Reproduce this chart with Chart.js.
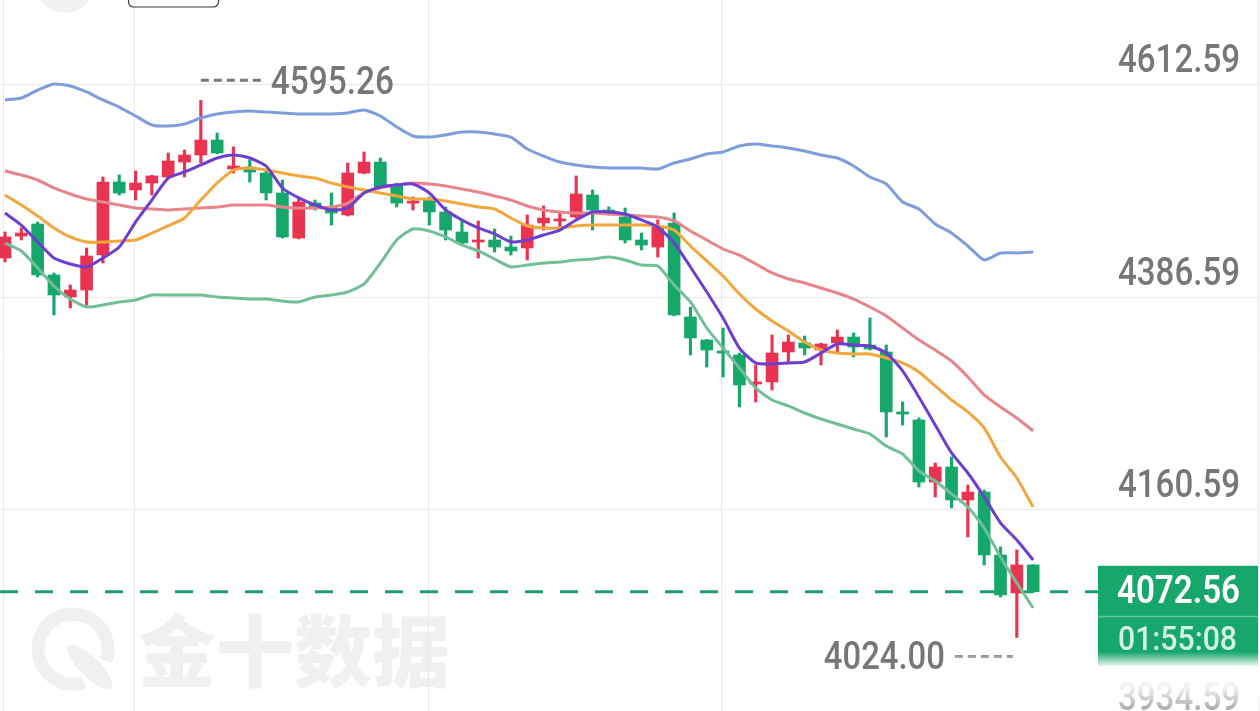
<!DOCTYPE html>
<html lang="zh-CN">
<head>
<meta charset="UTF-8">
<title>K线图</title>
<script src="https://cdn.jsdelivr.net/npm/chart.js"></script>
<style>
    html, body { margin: 0; padding: 0; background: #fff; overflow: hidden; }
    #wrap { width: 1260px; height: 711px; }
</style>
</head>
<body>
<div id="wrap"><canvas id="kline" width="1260" height="711"></canvas></div>
<script>
// K线数据
const opens = [4427.5, 4450.9, 4463.7, 4409.5, 4386.1, 4393.5, 4430.7, 4508.4, 4499.9, 4507.3,
    4513.7, 4529.6, 4537.1, 4553.0, 4522.2, 4524.3, 4517.9, 4496.7, 4448.8, 4486.0,
    4481.8, 4473.3, 4517.9, 4529.6, 4505.2, 4486.0, 4489.2, 4476.5, 4455.2, 4444.6,
    4446.7, 4439.2, 4438.2, 4464.8, 4466.9, 4471.2, 4494.5, 4478.6, 4471.2, 4446.7,
    4439.2, 4464.8, 4364.8, 4340.3, 4328.6, 4324.4, 4293.5, 4295.7, 4327.6, 4337.2,
    4329.7, 4337.2, 4343.5, 4335.0, 4327.6, 4263.8, 4255.3, 4189.3, 4205.3, 4170.2,
    4178.7, 4111.7, 4071.3, 4101.1];
const highs = [4455.2, 4459.5, 4465.8, 4411.6, 4398.8, 4438.2, 4513.7, 4515.8, 4520.1, 4515.5,
    4539.2, 4542.4, 4595.26, 4560.5, 4545.6, 4531.8, 4521.1, 4510.5, 4492.4, 4489.2,
    4496.7, 4528.6, 4540.3, 4533.9, 4507.3, 4492.4, 4492.4, 4481.8, 4468.0, 4466.9,
    4458.4, 4450.9, 4473.3, 4482.9, 4475.4, 4514.8, 4499.9, 4481.8, 4480.7, 4454.1,
    4468.0, 4475.4, 4375.4, 4341.0, 4353.1, 4326.5, 4313.8, 4345.7, 4345.7, 4344.6,
    4337.0, 4351.0, 4347.8, 4363.7, 4335.0, 4274.4, 4257.4, 4209.5, 4215.9, 4186.1,
    4180.8, 4120.2, 4117.0, 4101.5];
const lows = [4423.3, 4446.7, 4407.3, 4366.9, 4374.4, 4377.6, 4422.2, 4494.5, 4489.2, 4494.5,
    4512.6, 4513.7, 4528.6, 4538.5, 4517.9, 4508.4, 4489.2, 4448.8, 4447.8, 4478.6,
    4462.6, 4472.2, 4517.0, 4502.5, 4481.8, 4478.6, 4462.6, 4446.7, 4441.4, 4427.5,
    4433.9, 4430.7, 4425.4, 4457.3, 4457.3, 4470.1, 4457.3, 4473.3, 4443.5, 4436.1,
    4428.6, 4366.0, 4324.4, 4311.6, 4301.0, 4269.1, 4274.4, 4287.2, 4316.9, 4324.4,
    4313.8, 4326.5, 4322.3, 4329.7, 4237.2, 4249.9, 4184.0, 4173.4, 4161.7, 4130.8,
    4101.1, 4067.0, 4024.00, 4072.0];
const closes = [4449.9, 4454.1, 4409.5, 4388.2, 4393.5, 4429.7, 4508.4, 4496.7, 4507.3, 4514.8,
    4530.7, 4537.1, 4553.0, 4539.2, 4525.4, 4519.0, 4496.7, 4449.9, 4487.1, 4480.7,
    4475.4, 4517.9, 4529.6, 4503.1, 4486.0, 4488.2, 4476.5, 4457.3, 4443.5, 4446.7,
    4439.2, 4435.0, 4462.6, 4470.1, 4469.0, 4495.6, 4478.6, 4476.5, 4446.7, 4441.4,
    4460.5, 4366.9, 4342.5, 4329.7, 4326.5, 4292.5, 4295.7, 4326.5, 4338.2, 4331.8,
    4336.1, 4343.5, 4332.9, 4330.8, 4263.8, 4261.6, 4189.3, 4205.3, 4170.2, 4178.7,
    4111.7, 4069.2, 4101.1, 4072.56];

// 均线 / 布林带
const ma5 = [4475.4, 4462.6, 4444.6, 4427.5, 4421.2, 4418.0, 4427.5, 4439.2, 4465.8, 4489.2,
    4512.6, 4519.0, 4526.5, 4533.9, 4537.1, 4533.9, 4525.4, 4502.0, 4491.4, 4483.9,
    4478.6, 4480.7, 4496.7, 4503.1, 4505.2, 4506.3, 4496.7, 4478.6, 4468.0, 4459.5,
    4453.1, 4444.6, 4446.7, 4452.0, 4457.3, 4468.0, 4476.5, 4476.5, 4474.3, 4468.0,
    4460.5, 4443.5, 4418.0, 4391.4, 4363.7, 4331.8, 4315.9, 4314.8, 4315.9, 4316.9,
    4326.5, 4336.1, 4335.0, 4334.0, 4326.5, 4307.4, 4279.7, 4249.9, 4220.2, 4198.9,
    4173.4, 4145.7, 4127.6, 4106.4];
const ma10 = [4494.5, 4483.9, 4472.2, 4459.5, 4449.9, 4444.6, 4444.6, 4445.6, 4446.7, 4454.1,
    4461.6, 4470.1, 4489.2, 4507.3, 4521.1, 4523.3, 4521.1, 4517.9, 4514.8, 4512.6,
    4507.3, 4503.1, 4499.9, 4496.7, 4493.5, 4490.3, 4490.3, 4488.2, 4485.0, 4481.8,
    4479.7, 4470.1, 4461.6, 4459.5, 4459.5, 4461.6, 4462.6, 4462.6, 4462.6, 4462.6,
    4461.6, 4457.3, 4440.3, 4424.4, 4408.4, 4389.3, 4373.3, 4360.5, 4349.9, 4338.2,
    4329.7, 4326.5, 4325.5, 4325.5, 4321.2, 4315.9, 4306.3, 4291.4, 4276.5, 4263.8,
    4246.8, 4215.9, 4193.6, 4162.7];
const bollMid = [4520.1, 4515.8, 4510.5, 4502.0, 4495.6, 4490.3, 4487.1, 4483.9, 4480.7, 4479.7,
    4478.6, 4479.7, 4480.7, 4481.8, 4483.9, 4483.9, 4483.9, 4481.8, 4480.7, 4480.7,
    4481.8, 4486.0, 4496.7, 4502.0, 4505.2, 4507.3, 4506.3, 4504.1, 4500.9, 4497.7,
    4493.5, 4489.2, 4482.9, 4478.6, 4476.5, 4475.4, 4475.4, 4474.3, 4473.3, 4472.2,
    4471.2, 4466.9, 4456.3, 4446.7, 4437.1, 4430.7, 4421.2, 4411.6, 4405.2, 4401.0,
    4395.6, 4390.3, 4383.9, 4375.4, 4365.9, 4353.1, 4340.3, 4329.7, 4318.0, 4301.0,
    4281.9, 4269.1, 4257.4, 4243.6];
const bollUp = [4595.6, 4597.7, 4606.2, 4612.6, 4610.5, 4604.1, 4595.6, 4588.1, 4578.6, 4569.0,
    4567.9, 4570.1, 4576.4, 4580.7, 4582.8, 4583.9, 4582.8, 4581.8, 4580.7, 4580.7,
    4580.7, 4581.8, 4584.9, 4578.6, 4566.9, 4557.3, 4556.2, 4558.4, 4561.6, 4561.6,
    4559.4, 4556.2, 4543.5, 4536.0, 4529.6, 4526.5, 4524.3, 4523.3, 4523.3, 4523.3,
    4522.2, 4528.6, 4532.8, 4538.2, 4540.3, 4546.7, 4548.8, 4546.7, 4544.5, 4541.3,
    4537.1, 4533.9, 4525.4, 4513.7, 4506.3, 4487.1, 4479.7, 4463.7, 4454.1, 4440.3,
    4425.4, 4432.9, 4432.9, 4433.9];
const bollLow = [4443.5, 4435.0, 4416.9, 4397.8, 4383.9, 4375.4, 4377.6, 4380.8, 4382.9, 4388.2,
    4388.2, 4388.2, 4388.2, 4386.1, 4385.0, 4383.9, 4383.9, 4381.8, 4380.8, 4386.1,
    4388.2, 4391.4, 4399.9, 4422.2, 4446.7, 4458.4, 4456.3, 4449.9, 4441.4, 4435.0,
    4426.5, 4418.0, 4420.1, 4422.2, 4423.3, 4425.4, 4426.5, 4428.6, 4425.4, 4420.1,
    4419.0, 4398.8, 4380.8, 4353.1, 4331.8, 4310.6, 4289.3, 4276.5, 4270.2, 4262.7,
    4256.3, 4251.0, 4245.7, 4240.4, 4227.6, 4219.1, 4201.0, 4190.4, 4176.6, 4162.7,
    4140.4, 4109.6, 4081.9, 4055.3];

const yTicks = [4612.59, 4386.59, 4160.59, 3934.59];
const xGrid = [7.9, 25.9, 43.9];
const lastPrice = 4072.56;
const countdown = '01:55:08';

// 视窗范围
const X_MIN = -0.306, X_MAX = 76.9;
const Y_MIN = 3945.76, Y_MAX = 4701.93;

const RED = '#ea3350';
const GREEN = '#16a86b';
const LABEL_GRAY = '#777777';

const isUp = i => closes[i] >= opens[i];
const candleColor = c => isUp(c.dataIndex) ? RED : GREEN;

function drawNum(ctx, text, x, y, width, align, font, color) {
    ctx.save();
    ctx.font = font;
    const w = ctx.measureText(text).width;
    ctx.translate(x, y);
    ctx.scale(width / w, 1);
    ctx.textAlign = align;
    ctx.textBaseline = 'alphabetic';
    ctx.fillStyle = color;
    ctx.fillText(text, 0, 0);
    ctx.restore();
}

const NUM_FONT = '500 38px Roboto, "Liberation Sans", sans-serif';

// 背景：水印、网格、现价虚线
const backdrop = {
    id: 'backdrop',
    beforeDatasetsDraw(chart) {
        const { ctx, chartArea: a, scales: { x, y } } = chart;
        ctx.save();

        // 水印
        ctx.fillStyle = '#f0f0f0';
        ctx.strokeStyle = '#f0f0f0';
        ctx.lineWidth = 13;
        ctx.beginPath();
        ctx.arc(73, 649, 35, 1.25, 0.35 + Math.PI * 2);
        ctx.stroke();
        ctx.save();
        ctx.translate(90, 667);
        ctx.rotate(Math.PI / 4);
        ctx.beginPath();
        ctx.ellipse(0, 0, 30, 10, 0, 0, Math.PI * 2);
        ctx.fill();
        ctx.restore();
        ctx.font = '900 78px "Noto Sans CJK SC", sans-serif';
        ctx.textBaseline = 'middle';
        ctx.textAlign = 'left';
        ctx.fillText('金十数据', 138, 651);

        // 网格
        ctx.strokeStyle = '#e9e9e9';
        ctx.lineWidth = 1;
        ctx.beginPath();
        yTicks.forEach(v => {
            const py = Math.round(y.getPixelForValue(v)) + 0.5;
            ctx.moveTo(a.left, py);
            ctx.lineTo(a.right - 2, py);
        });
        xGrid.forEach(v => {
            const px = Math.round(x.getPixelForValue(v)) + 0.5;
            ctx.moveTo(px, a.top);
            ctx.lineTo(px, a.bottom);
        });
        ctx.moveTo(3.5, a.top); ctx.lineTo(3.5, a.bottom);
        ctx.moveTo(a.right - 1.5, a.top); ctx.lineTo(a.right - 1.5, a.bottom);
        ctx.stroke();

        // 现价虚线
        const py = y.getPixelForValue(lastPrice);
        ctx.strokeStyle = '#1f9e6c';
        ctx.lineWidth = 3;
        ctx.setLineDash([18, 17]);
        ctx.beginPath();
        ctx.moveTo(a.left, py);
        ctx.lineTo(1098, py);
        ctx.stroke();
        ctx.restore();
    }
};

// 前景：价格刻度、最高最低标注、现价框
const overlay = {
    id: 'overlay',
    afterDatasetsDraw(chart) {
        const { ctx, scales: { x, y } } = chart;
        ctx.save();

        yTicks.forEach(v => {
            drawNum(ctx, v.toFixed(2), 1240, y.getPixelForValue(v) - 12, 122, 'right', NUM_FONT, LABEL_GRAY);
        });

        // 最高价 / 最低价
        let hi = 0, lo = 0;
        highs.forEach((v, i) => { if (v > highs[hi]) hi = i; });
        lows.forEach((v, i) => { if (v < lows[lo]) lo = i; });
        const hx = x.getPixelForValue(hi), hy = y.getPixelForValue(highs[hi]);
        const lx = x.getPixelForValue(lo), ly = y.getPixelForValue(lows[lo]);

        ctx.strokeStyle = LABEL_GRAY;
        ctx.lineWidth = 3;
        ctx.setLineDash([8, 5]);
        ctx.beginPath();
        ctx.moveTo(hx, hy - 20); ctx.lineTo(hx + 65, hy - 20);
        ctx.moveTo(lx - 62, ly + 19); ctx.lineTo(lx - 4, ly + 19);
        ctx.stroke();
        ctx.setLineDash([]);
        drawNum(ctx, highs[hi].toFixed(2), hx + 70, hy - 6, 123, 'left', NUM_FONT, LABEL_GRAY);
        drawNum(ctx, lows[lo].toFixed(2), lx - 72, ly + 32, 121, 'right', NUM_FONT, LABEL_GRAY);

        // 现价框
        const py = y.getPixelForValue(lastPrice);
        ctx.fillStyle = '#18a76b';
        ctx.fillRect(1098, py - 26, 160, 100);
        ctx.fillStyle = 'rgba(255,255,255,0.35)';
        ctx.fillRect(1098, py + 24, 160, 1.5);
        drawNum(ctx, lastPrice.toFixed(2), 1240, py + 11, 123, 'right', '600 38px Roboto, "Liberation Sans", sans-serif', '#ffffff');
        drawNum(ctx, countdown, 1237, py + 58, 119, 'right', '500 34px Roboto, "Liberation Sans", sans-serif', '#d3f3e2');

        // 底部渐隐
        const g = ctx.createLinearGradient(0, 652, 0, 711);
        g.addColorStop(0, 'rgba(255,255,255,0)');
        g.addColorStop(0.25, 'rgba(255,255,255,0.95)');
        g.addColorStop(0.6, 'rgba(255,255,255,0.9)');
        g.addColorStop(1, 'rgba(255,255,255,0.35)');
        ctx.fillStyle = g;
        ctx.fillRect(950, 652, 310, 59);

        // 顶部控件残影
        ctx.fillStyle = '#f1f1f1';
        ctx.beginPath();
        ctx.arc(65, -17, 30, 0, Math.PI * 2);
        ctx.fill();
        ctx.strokeStyle = '#3a3a3a';
        ctx.lineWidth = 1.2;
        ctx.beginPath();
        ctx.roundRect(128.5, -10, 90, 17, 5);
        ctx.stroke();
        ctx.restore();
    }
};

function lineSet(label, values, color, order) {
    return {
        type: 'line',
        label,
        data: values.map((v, i) => ({ x: i, y: v })),
        borderColor: color,
        borderWidth: 3,
        pointRadius: 0,
        tension: 0.2,
        fill: false,
        order
    };
}

new Chart(document.getElementById('kline'), {
    type: 'bar',
    data: {
        datasets: [
            lineSet('MA5', ma5, '#6d3fd0', 0),
            lineSet('MA10', ma10, '#f3a63c', 1),
            lineSet('MID', bollMid, '#e7858b', 2),
            lineSet('LOWER', bollLow, '#71be97', 3),
            lineSet('UPPER', bollUp, '#7d9edb', 4),
            {
                type: 'bar',
                label: '实体',
                data: opens.map((o, i) => ({ x: i, y: [o, closes[i]] })),
                backgroundColor: candleColor,
                barThickness: 12,
                minBarLength: 2,
                grouped: false,
                order: 10
            },
            {
                type: 'bar',
                label: '影线',
                data: lows.map((l, i) => ({ x: i, y: [l, highs[i]] })),
                backgroundColor: candleColor,
                barThickness: 2.5,
                grouped: false,
                order: 11
            }
        ]
    },
    options: {
        responsive: false,
        animation: false,
        devicePixelRatio: 1,
        layout: { padding: 0 },
        plugins: { legend: { display: false }, tooltip: { enabled: false } },
        scales: {
            x: { type: 'linear', min: X_MIN, max: X_MAX, offset: false, grid: { offset: false }, display: false },
            y: { type: 'linear', min: Y_MIN, max: Y_MAX, display: false }
        }
    },
    plugins: [backdrop, overlay]
});
</script>
</body>
</html>
